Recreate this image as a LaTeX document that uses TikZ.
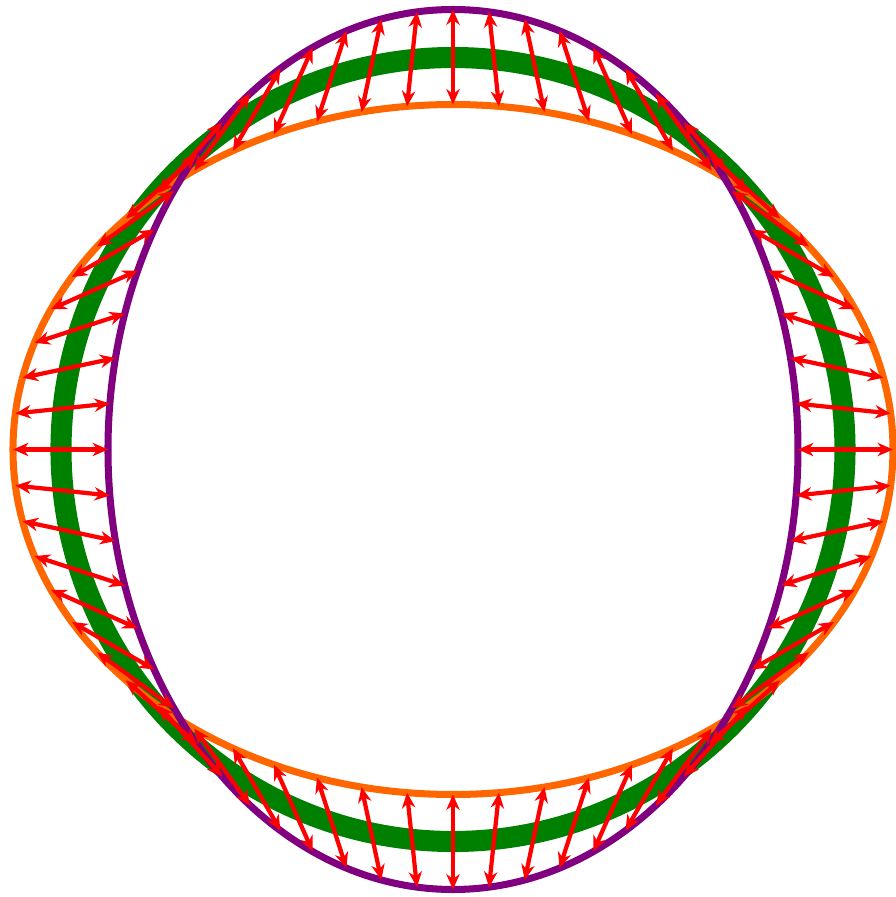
\documentclass[tikz,border=0pt]{standalone}
\usepackage{xcolor}
\usepackage{tikz}
\usetikzlibrary{arrows.meta}
\definecolor{ringgreen}{HTML}{008000}
\definecolor{wideorange}{HTML}{FF6600}
\definecolor{tallpurple}{HTML}{800080}
\definecolor{shiftred}{HTML}{FF0000}

\begin{document}
\begin{tikzpicture}[
      rest/.style={draw=ringgreen, line width=6pt},
      wide/.style={draw=wideorange, line width=2pt},
      tall/.style={draw=tallpurple, line width=2pt},
      arr/.style={{Stealth[length=4.4pt, width=3.8pt]}-{Stealth[length=4.4pt, width=3.8pt]},
                  line width=1.2pt, shiftred}]
    \useasboundingbox (-4.53,-4.475) rectangle (4.43,4.495);
    \coordinate (mid) at (0,0);
    \draw[rest] (mid) circle [radius=3.92];
    \draw[wide] (mid) ellipse [x radius=4.40, y radius=3.45];
    \draw[tall] (mid) ellipse [x radius=3.45, y radius=4.40];
    % displacement between the two deformed shapes
    \foreach \t in {0,6,...,354} {
      \coordinate (o\t) at (\t:4.40 and 3.45);
      \coordinate (p\t) at (\t:3.45 and 4.40);
      \draw[arr] (p\t) -- (o\t);
    }
  \end{tikzpicture}
\end{document}
